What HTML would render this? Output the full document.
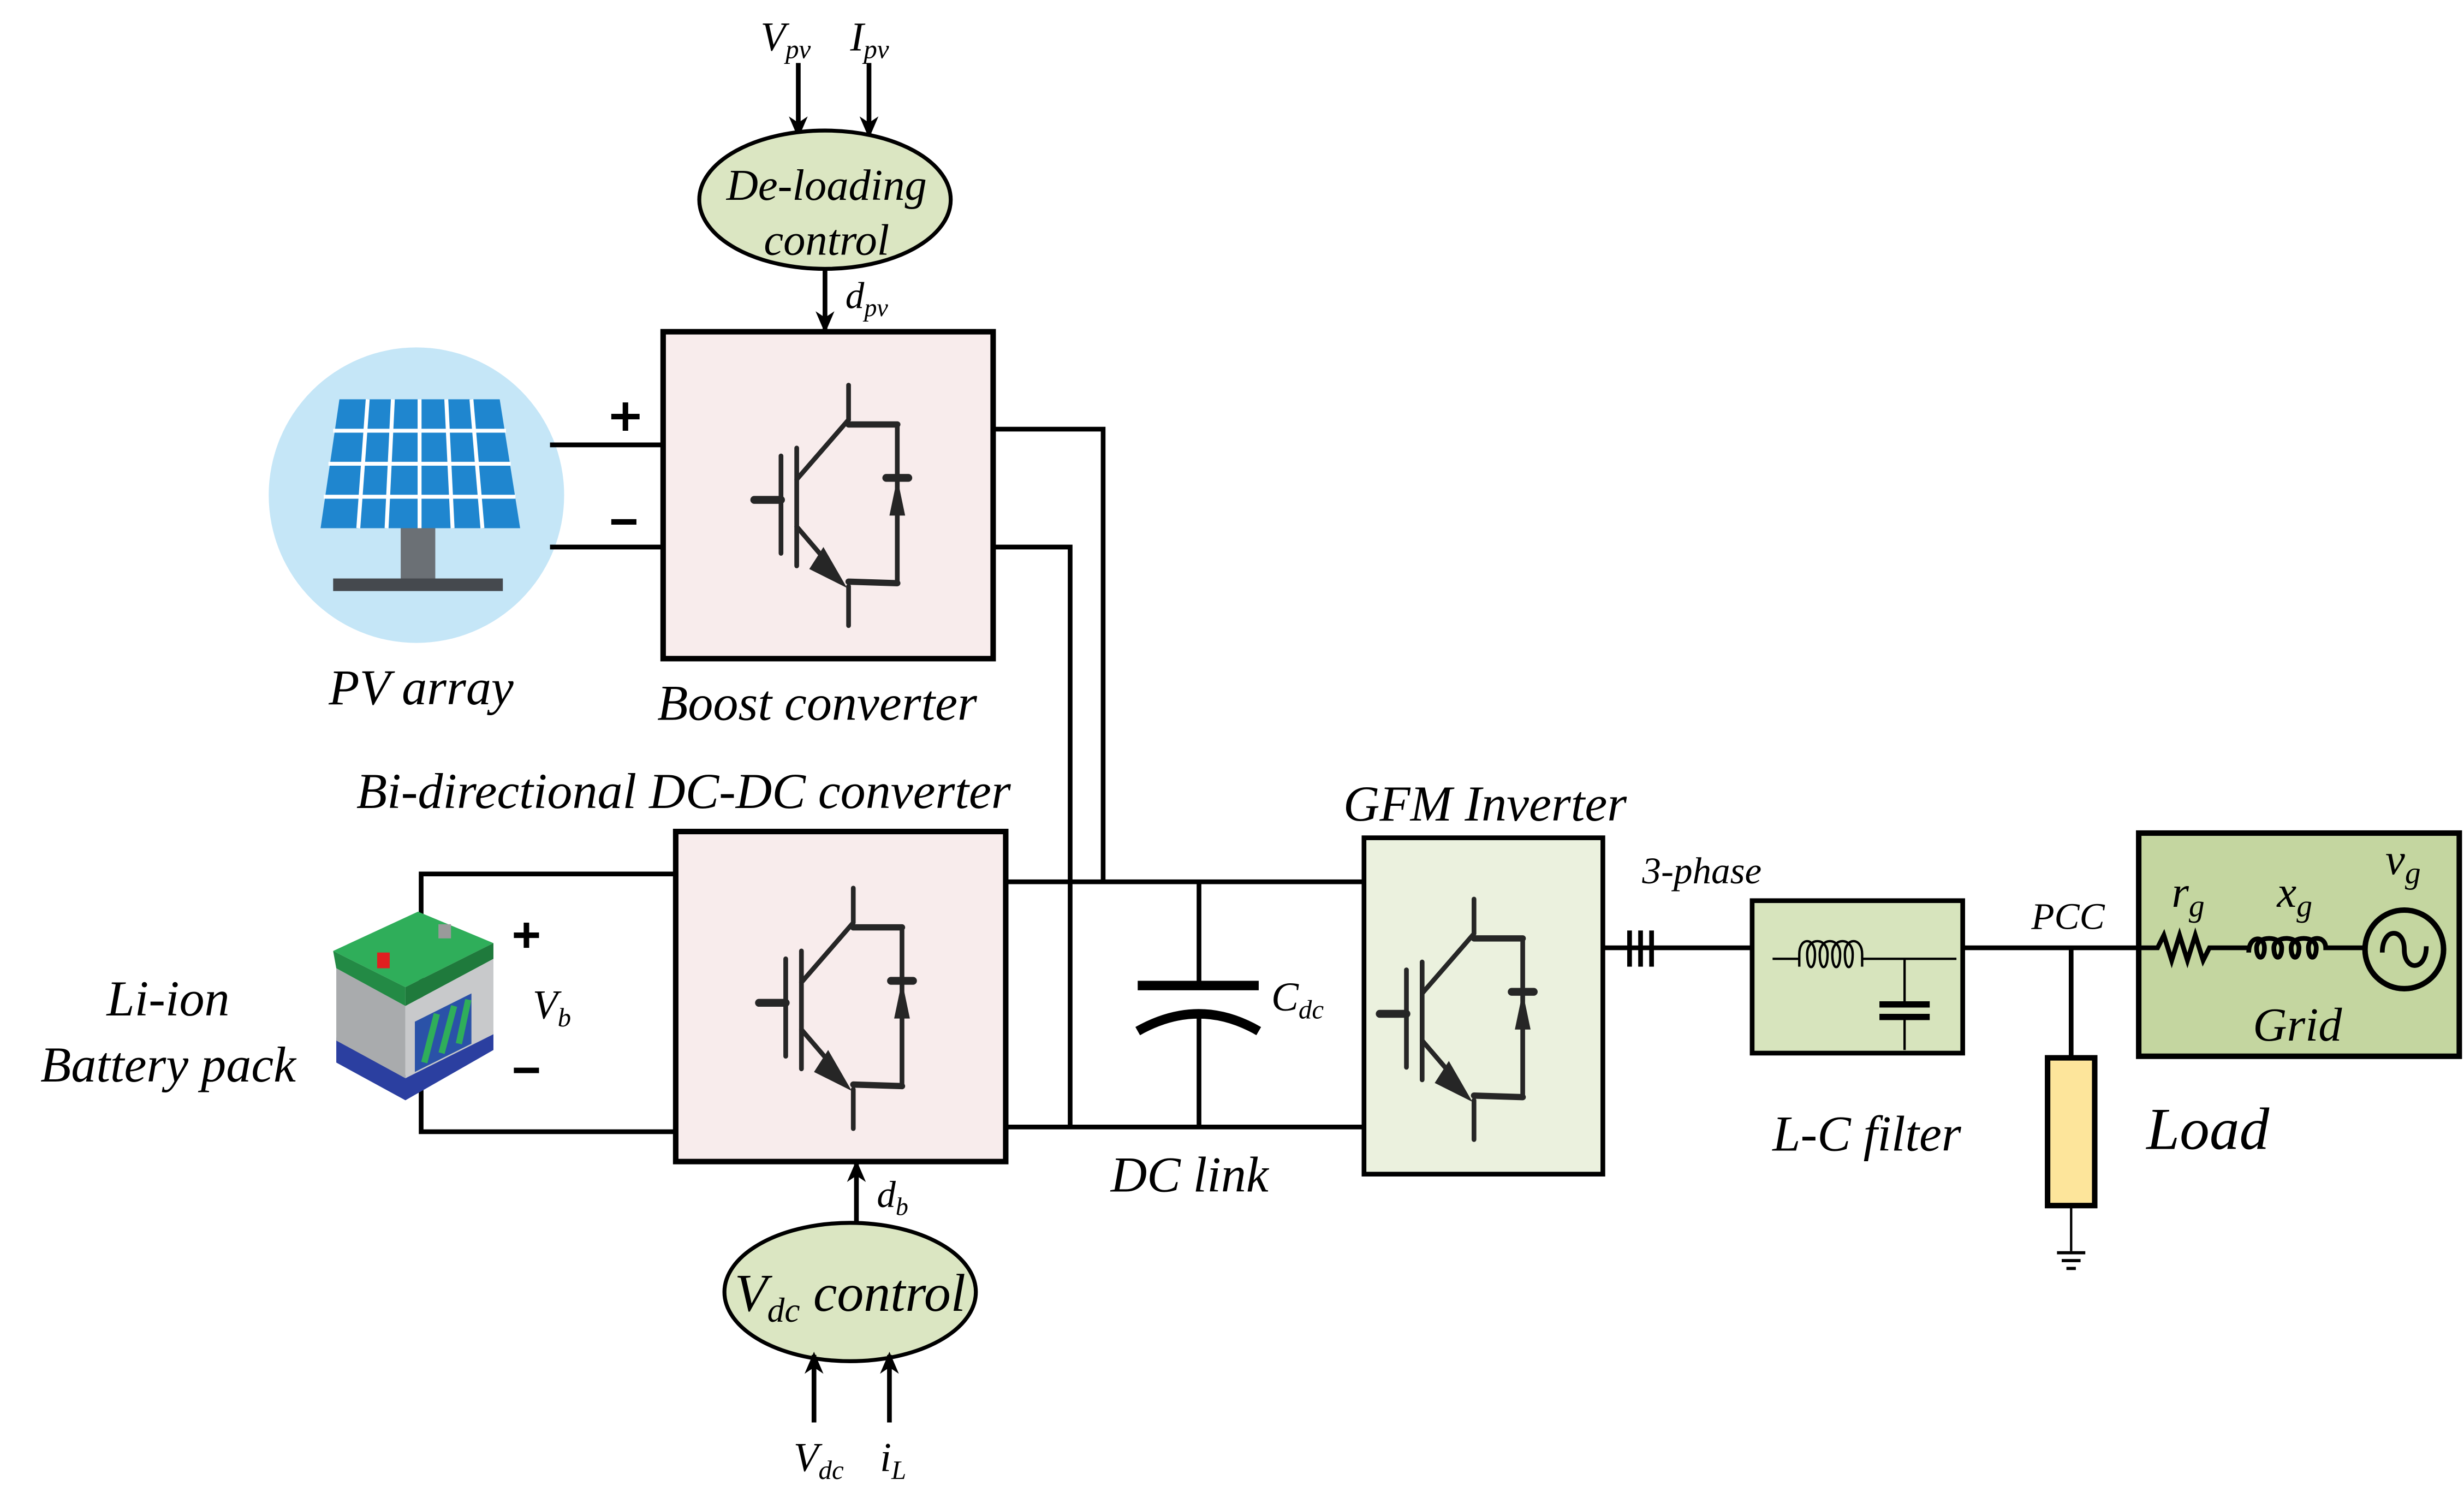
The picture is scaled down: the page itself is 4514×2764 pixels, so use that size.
<!DOCTYPE html>
<html><head><meta charset="utf-8">
<style>html,body{margin:0;padding:0;background:#fff}svg{display:block}
svg text{font-family:"Liberation Serif","DejaVu Serif",serif;font-style:italic;fill:#000}</style></head>
<body>
<svg width="4514" height="2764" viewBox="0 0 1568 960" xmlns="http://www.w3.org/2000/svg" font-family="Liberation Serif, DejaVu Serif, serif">
<defs>
<marker id="ar" markerWidth="14" markerHeight="14" refX="12" refY="7" orient="auto" markerUnits="userSpaceOnUse"><path d="M0,1 L14,7 L0,13 L4,7 Z" fill="#000"/></marker>
<g id="igbt" stroke="#262626" stroke-width="4" fill="none" stroke-linecap="round">
<line x1="0" y1="0" x2="17" y2="0" stroke-width="5"/>
<line x1="17" y1="-28" x2="17" y2="34" stroke-width="3"/>
<line x1="27" y1="-33" x2="27" y2="42" stroke-width="3"/>
<line x1="27" y1="-13" x2="60" y2="-51" stroke-width="3"/>
<line x1="60" y1="-73" x2="60" y2="-51" stroke-width="3"/>
<line x1="60" y1="-48" x2="91" y2="-48"/>
<line x1="91" y1="-48" x2="91" y2="52" stroke-width="3"/>
<line x1="27" y1="17" x2="45" y2="38" stroke-width="3"/>
<path d="M59,56 L35,44 L44,30 Z" fill="#262626" stroke="none"/>
<line x1="60" y1="55" x2="60" y2="80" stroke-width="3"/>
<line x1="60" y1="52" x2="91" y2="53"/>
<path d="M86,10 L96,10 L91,-14 Z" fill="#262626" stroke="none"/>
<line x1="84" y1="-14" x2="98" y2="-14" stroke-width="5"/>
</g>
</defs>

<!-- De-loading control -->
<line x1="508" y1="40" x2="508" y2="86" stroke="#000" stroke-width="3" marker-end="url(#ar)"/>
<line x1="553" y1="40" x2="553" y2="86" stroke="#000" stroke-width="3" marker-end="url(#ar)"/>
<text x="484" y="32" font-size="26">V<tspan font-size="17" dy="5">pv</tspan></text>
<text x="541" y="32" font-size="26">I<tspan font-size="17" dy="5">pv</tspan></text>
<ellipse cx="525" cy="127" rx="80" ry="44" fill="#dbe6c2" stroke="#000" stroke-width="2.5"/>
<text x="526" y="127" font-size="28" text-anchor="middle">De-loading</text>
<text x="526" y="162" font-size="28" text-anchor="middle">control</text>
<line x1="525" y1="171" x2="525" y2="210" stroke="#000" stroke-width="3" marker-end="url(#ar)"/>
<text x="538" y="196" font-size="24">d<tspan font-size="16" dy="5">pv</tspan></text>

<!-- PV -->
<circle cx="265" cy="315" r="94" fill="#c5e6f7"/>
<path d="M216,254 L318,254 L331,336 L204,336 Z" fill="#1f86cf"/>
<g stroke="#fff" stroke-width="2.5">
<line x1="212" y1="274" x2="322" y2="274"/><line x1="209" y1="295" x2="325" y2="295"/><line x1="206" y1="316" x2="328" y2="316"/>
<line x1="234" y1="254" x2="228" y2="336"/><line x1="250" y1="254" x2="246" y2="336"/><line x1="267" y1="254" x2="267" y2="336"/><line x1="284" y1="254" x2="288" y2="336"/><line x1="300" y1="254" x2="307" y2="336"/>
</g>
<rect x="255" y="336" width="22" height="33" fill="#6b7075"/>
<rect x="212" y="368" width="108" height="8" fill="#45494e"/>
<text x="268" y="448" font-size="32" text-anchor="middle">PV array</text>
<line x1="350" y1="283" x2="422" y2="283" stroke="#000" stroke-width="3"/>
<line x1="350" y1="348" x2="422" y2="348" stroke="#000" stroke-width="3"/>
<g stroke="#000" stroke-width="3.5"><line x1="389" y1="265" x2="407" y2="265"/><line x1="398" y1="256" x2="398" y2="274"/></g>
<line x1="389" y1="332" x2="405" y2="332" stroke="#000" stroke-width="3.5"/>

<!-- Boost -->
<rect x="422" y="211" width="210" height="208" fill="#f8ecec" stroke="#000" stroke-width="3.5"/>
<use href="#igbt" x="480" y="318"/>
<text x="520" y="458" font-size="32" text-anchor="middle">Boost converter</text>
<polyline points="632,273 702,273 702,561" fill="none" stroke="#000" stroke-width="3"/>
<polyline points="632,348 681,348 681,717" fill="none" stroke="#000" stroke-width="3"/>

<!-- Battery side -->
<text x="435" y="514" font-size="32" text-anchor="middle">Bi-directional DC-DC converter</text>
<polyline points="430,556 268,556 268,720 430,720" fill="none" stroke="#000" stroke-width="3"/>
<rect x="430" y="529" width="210" height="210" fill="#f8ecec" stroke="#000" stroke-width="3.5"/>
<use href="#igbt" x="483" y="638"/>
<polygon points="214,660 258,684 314,656 314,668 258,700 214,676" fill="#2b3fa0"/>
<polygon points="214,616 258,640 258,686 214,662" fill="#a9abad"/>
<polygon points="258,640 314,610 314,658 258,686" fill="#c8c9cb"/>
<polygon points="212,605 266,580 314,600 258,628" fill="#2fae5a"/>
<polygon points="212,605 258,628 258,640 214,616" fill="#238a45"/>
<polygon points="258,628 314,600 314,610 258,640" fill="#1f7a3c"/>
<rect x="240" y="606" width="8" height="10" fill="#e02020"/>
<rect x="279" y="588" width="8" height="9" fill="#9a9a9a"/>
<polygon points="264,650 300,632 300,664 264,682" fill="#2a52a8"/>
<g stroke="#2fae5a" stroke-width="4"><line x1="270" y1="676" x2="278" y2="645"/><line x1="281" y1="670" x2="289" y2="640"/><line x1="292" y1="664" x2="298" y2="636"/></g>
<g stroke="#000" stroke-width="3.5"><line x1="327" y1="595" x2="343" y2="595"/><line x1="335" y1="587" x2="335" y2="603"/></g>
<line x1="327" y1="681" x2="343" y2="681" stroke="#000" stroke-width="3.5"/>
<text x="339" y="648" font-size="26">V<tspan font-size="17" dy="5">b</tspan></text>
<text x="107" y="646" font-size="32" text-anchor="middle">Li-ion</text>
<text x="107" y="688" font-size="32" text-anchor="middle">Battery pack</text>

<line x1="545" y1="778" x2="545" y2="740" stroke="#000" stroke-width="3" marker-end="url(#ar)"/>
<text x="558" y="768" font-size="24">d<tspan font-size="16" dy="5">b</tspan></text>
<ellipse cx="541" cy="822" rx="80" ry="44" fill="#dbe6c2" stroke="#000" stroke-width="2.5"/>
<text x="541" y="834" font-size="34" text-anchor="middle">V<tspan font-size="22" dy="7">dc</tspan><tspan dy="-7"> control</tspan></text>
<line x1="518" y1="905" x2="518" y2="862" stroke="#000" stroke-width="3" marker-end="url(#ar)"/>
<line x1="566" y1="905" x2="566" y2="862" stroke="#000" stroke-width="3" marker-end="url(#ar)"/>
<text x="505" y="936" font-size="26">V<tspan font-size="17" dy="5">dc</tspan></text>
<text x="560" y="936" font-size="26">i<tspan font-size="17" dy="5">L</tspan></text>

<!-- DC link -->
<line x1="640" y1="561" x2="868" y2="561" stroke="#000" stroke-width="3"/>
<line x1="640" y1="717" x2="868" y2="717" stroke="#000" stroke-width="3"/>
<line x1="763" y1="561" x2="763" y2="626" stroke="#000" stroke-width="3"/>
<line x1="724" y1="627" x2="801" y2="627" stroke="#000" stroke-width="6"/>
<path d="M724,656 Q763,634 801,656" fill="none" stroke="#000" stroke-width="6"/>
<line x1="763" y1="646" x2="763" y2="717" stroke="#000" stroke-width="3"/>
<text x="809" y="643" font-size="26">C<tspan font-size="17" dy="5">dc</tspan></text>
<text x="757" y="758" font-size="32" text-anchor="middle">DC link</text>

<!-- GFM -->
<text x="945" y="522" font-size="32" text-anchor="middle">GFM Inverter</text>
<rect x="868" y="533" width="152" height="214" fill="#ebf1de" stroke="#000" stroke-width="3"/>
<use href="#igbt" x="878" y="645"/>
<line x1="1020" y1="603" x2="1115" y2="603" stroke="#000" stroke-width="3"/>
<g stroke="#000" stroke-width="3"><line x1="1037" y1="592" x2="1037" y2="615"/><line x1="1044" y1="592" x2="1044" y2="615"/><line x1="1051" y1="592" x2="1051" y2="615"/></g>
<text x="1083" y="562" font-size="24" text-anchor="middle">3-phase</text>

<!-- LC filter -->
<rect x="1115" y="573" width="134" height="97" fill="#d7e4bd" stroke="#000" stroke-width="3"/>
<line x1="1128" y1="610" x2="1145" y2="610" stroke="#000" stroke-width="1.5"/>
<path d="M1145,615 L1145,607 C1145,596 1155,596 1155,607 C1155,618 1150,618 1150,607 C1150,596 1163,596 1163,607 C1163,618 1158,618 1158,607 C1158,596 1171,596 1171,607 C1171,618 1166,618 1166,607 C1166,596 1179,596 1179,607 C1179,618 1174,618 1174,607 C1174,596 1185,596 1185,607 L1185,615" fill="none" stroke="#000" stroke-width="1.5"/>
<line x1="1185" y1="610" x2="1245" y2="610" stroke="#000" stroke-width="1.5"/>
<line x1="1212" y1="610" x2="1212" y2="638" stroke="#000" stroke-width="1.5"/>
<line x1="1196" y1="639" x2="1228" y2="639" stroke="#000" stroke-width="4"/>
<line x1="1196" y1="647" x2="1228" y2="647" stroke="#000" stroke-width="4"/>
<line x1="1212" y1="648" x2="1212" y2="668" stroke="#000" stroke-width="1.5"/>
<text x="1188" y="732" font-size="32" text-anchor="middle">L-C filter</text>

<!-- PCC / Load -->
<line x1="1249" y1="603" x2="1362" y2="603" stroke="#000" stroke-width="3"/>
<text x="1316" y="591" font-size="24" text-anchor="middle">PCC</text>
<line x1="1318" y1="603" x2="1318" y2="673" stroke="#000" stroke-width="3"/>
<rect x="1303" y="673" width="30" height="94" fill="#fde59b" stroke="#000" stroke-width="3.5"/>
<line x1="1318" y1="767" x2="1318" y2="796" stroke="#000" stroke-width="1.5"/>
<g stroke="#000" stroke-width="2"><line x1="1309" y1="797" x2="1327" y2="797"/><line x1="1312" y1="802" x2="1324" y2="802"/><line x1="1315" y1="807" x2="1321" y2="807"/></g>
<text x="1405" y="731" font-size="38" text-anchor="middle">Load</text>

<!-- Grid -->
<rect x="1361" y="530" width="204" height="142" fill="#c4d6a0" stroke="#000" stroke-width="3.5"/>
<polyline points="1362,603 1373,603 1377,595 1382,611 1387,595 1392,611 1397,595 1402,611 1406,603 1431,603" fill="none" stroke="#000" stroke-width="3"/>
<path d="M1431,606 C1431,595 1441,595 1441,603 C1441,611 1436,611 1436,603 C1436,595 1452,595 1452,603 C1452,611 1447,611 1447,603 C1447,595 1463,595 1463,603 C1463,611 1458,611 1458,603 C1458,595 1474,595 1474,603 C1474,611 1469,611 1469,603 C1469,595 1480,595 1480,603 L1505,603" fill="none" stroke="#000" stroke-width="3"/>
<circle cx="1530" cy="604" r="25" fill="none" stroke="#000" stroke-width="3.5"/>
<path d="M1516,606 C1516,590 1530,590 1530,604 C1530,618 1544,618 1544,602" fill="none" stroke="#000" stroke-width="3"/>
<text x="1382" y="577" font-size="28">r<tspan font-size="20" dy="6">g</tspan></text>
<text x="1449" y="577" font-size="28">x<tspan font-size="20" dy="6">g</tspan></text>
<text x="1518" y="556" font-size="28">v<tspan font-size="20" dy="6">g</tspan></text>
<text x="1462" y="662" font-size="30" text-anchor="middle">Grid</text>
</svg>
</body></html>
